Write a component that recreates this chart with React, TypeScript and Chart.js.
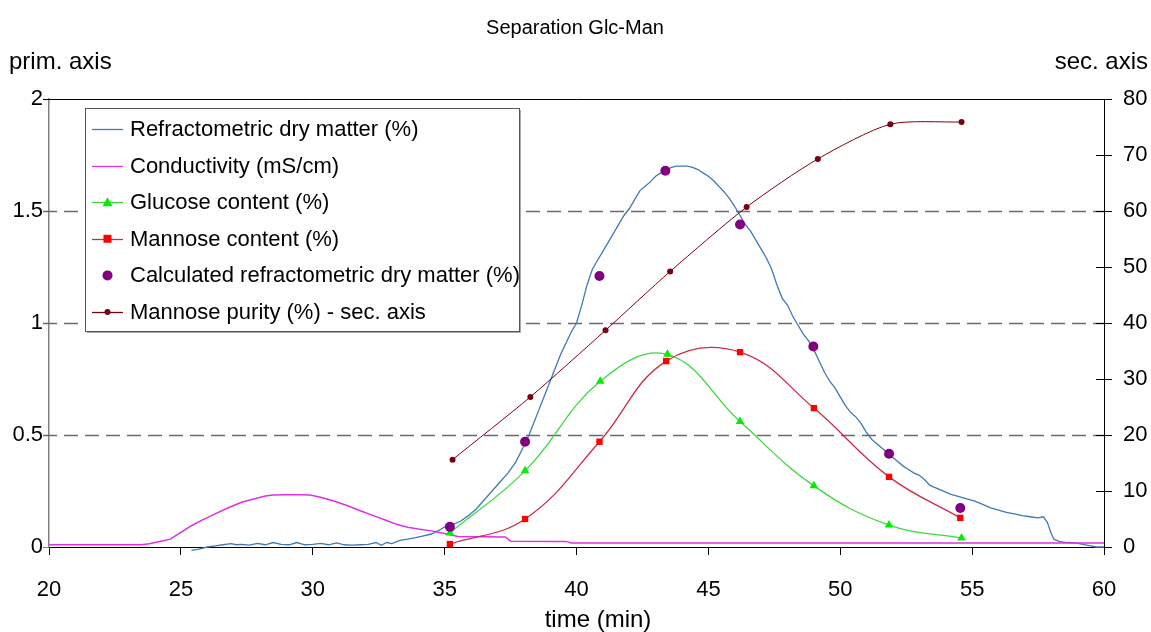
import React, { useEffect, useRef } from 'react';
import { Chart, registerables } from 'chart.js';

Chart.register(...registerables);

// ---------- texts ----------
const TITLE = 'Separation Glc-Man';
const X_TITLE = 'time (min)';
const Y_TITLE = 'prim. axis';
const Y2_TITLE = 'sec. axis';

// ---------- axes ----------
const X_RANGE = [20, 60];
const X_STEP = 5;
const Y_RANGE = [0, 2];
const Y_STEP = 0.5;
const Y2_RANGE = [0, 80];
const Y2_STEP = 10;
const GRID_LINES = [0.5, 1, 1.5];

// ---------- series ----------
const LABELS = [
  'Refractometric dry matter (%)',
  'Conductivity (mS/cm)',
  'Glucose content (%)',
  'Mannose content (%)',
  'Calculated refractometric dry matter (%)',
  'Mannose purity (%) - sec. axis',
];

// [time (min), value]
const dryMatter: [number, number][] = [
  [25.4, -0.015], [25.6, -0.012], [25.8, -0.006], [26.0, 0.0], [26.3, 0.005], [26.6, 0.01],
  [26.9, 0.015], [27.1, 0.01], [27.3, 0.012], [27.6, 0.008], [27.9, 0.016], [28.2, 0.01],
  [28.5, 0.02], [28.8, 0.012], [29.1, 0.01], [29.4, 0.02], [29.7, 0.01], [30.0, 0.012],
  [30.3, 0.016], [30.6, 0.01], [30.9, 0.018], [31.2, 0.01], [31.5, 0.008], [31.8, 0.01],
  [32.1, 0.012], [32.4, 0.02], [32.6, 0.008], [32.8, 0.02], [33.0, 0.015], [33.3, 0.03],
  [33.6, 0.035], [33.9, 0.042], [34.2, 0.05], [34.5, 0.058], [34.8, 0.075], [35.0, 0.09],
  [35.3, 0.1], [35.6, 0.115], [35.9, 0.14], [36.2, 0.17], [36.5, 0.21], [36.8, 0.25],
  [37.1, 0.29], [37.4, 0.33], [37.7, 0.38], [38.0, 0.45], [38.2, 0.5], [38.4, 0.56],
  [38.6, 0.62], [38.8, 0.68], [39.0, 0.74], [39.2, 0.8], [39.4, 0.86], [39.6, 0.91],
  [39.8, 0.96], [40.0, 1.0], [40.2, 1.08], [40.4, 1.17], [40.6, 1.24], [40.8, 1.28],
  [41.0, 1.32], [41.2, 1.36], [41.4, 1.4], [41.6, 1.44], [41.8, 1.48], [42.0, 1.51],
  [42.2, 1.55], [42.4, 1.59], [42.6, 1.61], [42.8, 1.63], [43.0, 1.655], [43.2, 1.67],
  [43.4, 1.68], [43.6, 1.695], [43.8, 1.7], [44.0, 1.7], [44.2, 1.7], [44.4, 1.695],
  [44.6, 1.685], [44.8, 1.67], [45.0, 1.655], [45.2, 1.635], [45.4, 1.61], [45.6, 1.585],
  [45.8, 1.555], [46.0, 1.52], [46.2, 1.48], [46.4, 1.44], [46.6, 1.41], [46.8, 1.37],
  [47.0, 1.33], [47.2, 1.29], [47.4, 1.24], [47.6, 1.17], [47.8, 1.11], [48.0, 1.08],
  [48.2, 1.03], [48.4, 0.99], [48.6, 0.95], [48.8, 0.92], [49.0, 0.88], [49.2, 0.83],
  [49.4, 0.78], [49.6, 0.74], [49.8, 0.71], [50.0, 0.67], [50.2, 0.63], [50.4, 0.6],
  [50.6, 0.58], [50.8, 0.55], [51.0, 0.51], [51.2, 0.48], [51.4, 0.46], [51.6, 0.44],
  [51.8, 0.42], [52.0, 0.4], [52.2, 0.38], [52.4, 0.36], [52.6, 0.345], [52.8, 0.33],
  [53.0, 0.32], [53.2, 0.3], [53.4, 0.275], [53.6, 0.265], [53.8, 0.255], [54.0, 0.245],
  [54.2, 0.235], [54.5, 0.225], [54.8, 0.215], [55.1, 0.205], [55.4, 0.19], [55.7, 0.175],
  [56.0, 0.165], [56.3, 0.155], [56.6, 0.148], [56.9, 0.14], [57.2, 0.135], [57.5, 0.13],
  [57.7, 0.135], [57.85, 0.11], [58.0, 0.06], [58.1, 0.035], [58.3, 0.025], [58.6, 0.02],
  [58.9, 0.018], [59.2, 0.012], [59.5, 0.005], [59.7, 0.0], [60.0, 0.0],
];

const conductivity: [number, number][] = [
  [20.0, 0.01], [23.5, 0.01], [23.8, 0.015], [24.2, 0.025], [24.6, 0.035], [25.0, 0.065],
  [25.4, 0.095], [25.8, 0.12], [26.3, 0.148], [26.8, 0.175], [27.3, 0.2], [27.8, 0.215],
  [28.2, 0.228], [28.5, 0.232], [29.0, 0.233], [29.5, 0.233], [29.9, 0.232], [30.3, 0.222],
  [30.8, 0.205], [31.3, 0.185], [31.8, 0.162], [32.3, 0.14], [32.8, 0.118], [33.2, 0.1],
  [33.6, 0.088], [34.0, 0.08], [34.5, 0.072], [35.0, 0.06], [35.3, 0.052], [35.5, 0.047],
  [36.5, 0.046], [37.3, 0.045], [37.5, 0.026], [39.6, 0.025], [39.8, 0.018], [60.0, 0.018],
];

const glucose: [number, number][] = [
  [35.2, 0.063], [38.05, 0.34], [40.9, 0.74], [43.45, 0.86],
  [46.2, 0.56], [49.0, 0.273], [51.85, 0.098], [54.6, 0.04],
];

const mannose: [number, number][] = [
  [35.2, 0.013], [38.05, 0.125], [40.87, 0.47], [43.4, 0.83],
  [46.2, 0.87], [49.0, 0.62], [51.85, 0.313], [54.55, 0.13],
];

const calcDryMatter: [number, number][] = [
  [35.2, 0.09], [38.05, 0.47], [40.87, 1.21], [43.37, 1.68],
  [46.2, 1.44], [48.98, 0.895], [51.85, 0.416], [54.55, 0.174],
];

const mannosePurity: [number, number][] = [
  [35.3, 15.6], [38.25, 26.8], [41.1, 38.7], [43.55, 49.2],
  [46.45, 60.7], [49.15, 69.3], [51.9, 75.5], [54.6, 75.9],
];

// ---------- styles ----------
const FONT = "'Liberation Sans', Arial, Helvetica, sans-serif";
const BLUE = '#3f7ab5';
const MAGENTA = '#e030e0';
const GREEN_LINE = '#3ed83e';
const GREEN_MARK = '#00ee00';
const RED_LINE = '#d02a48';
const RED_MARK = '#ff0000';
const PURPLE = '#800080';
const DARK_RED = '#7a0010';

const toXY = (arr: [number, number][]) => arr.map(([x, y]) => ({ x, y }));

type LegendItem = {
  text: string;
  line: string | null;
  marker: 'triangle' | 'rect' | 'circle' | 'dot' | null;
  markerColor: string;
};

const LEGEND: LegendItem[] = [
  { text: LABELS[0], line: BLUE, marker: null, markerColor: '' },
  { text: LABELS[1], line: MAGENTA, marker: null, markerColor: '' },
  { text: LABELS[2], line: GREEN_LINE, marker: 'triangle', markerColor: GREEN_MARK },
  { text: LABELS[3], line: RED_LINE, marker: 'rect', markerColor: RED_MARK },
  { text: LABELS[4], line: null, marker: 'circle', markerColor: PURPLE },
  { text: LABELS[5], line: DARK_RED, marker: 'dot', markerColor: DARK_RED },
];

const decorPlugin = {
  id: 'decor',
  beforeDatasetsDraw(chart: any) {
    const { ctx, chartArea } = chart;
    const y = chart.scales.y;
    ctx.save();
    ctx.strokeStyle = '#6a6a6a';
    ctx.lineWidth = 1.5;
    ctx.setLineDash([14, 7]);
    GRID_LINES.forEach((v) => {
      const py = Math.round(y.getPixelForValue(v)) + 0.5;
      ctx.beginPath();
      ctx.moveTo(chartArea.left - 6, py);
      ctx.lineTo(chartArea.right, py);
      ctx.stroke();
    });
    ctx.setLineDash([]);
    // top border
    ctx.strokeStyle = '#000';
    ctx.lineWidth = 1;
    const top = Math.round(chartArea.top) + 0.5;
    ctx.beginPath();
    ctx.moveTo(chartArea.left - 6, top);
    ctx.lineTo(chartArea.right + 8, top);
    ctx.stroke();
    // inner ticks of the secondary axis
    const y2 = chart.scales.y2;
    y2.ticks.forEach((t: any) => {
      const py = Math.round(y2.getPixelForValue(t.value)) + 0.5;
      ctx.beginPath();
      ctx.moveTo(chartArea.right - 8, py);
      ctx.lineTo(chartArea.right, py);
      ctx.stroke();
    });
    ctx.restore();
  },
  afterDraw(chart: any) {
    const { ctx, chartArea } = chart;
    ctx.save();
    ctx.fillStyle = '#000';
    // title
    ctx.font = `20px ${FONT}`;
    ctx.textAlign = 'center';
    ctx.textBaseline = 'middle';
    ctx.fillText(TITLE, 575, 28);
    // axis titles
    ctx.font = `24px ${FONT}`;
    ctx.textAlign = 'left';
    ctx.fillText(Y_TITLE, 9, 62);
    ctx.textAlign = 'right';
    ctx.fillText(Y2_TITLE, 1148, 62);
    ctx.textAlign = 'center';
    ctx.fillText(X_TITLE, 598, 620);

    // legend box
    const bx = chartArea.left + 36;
    const by = chartArea.top + 9;
    const bw = 434;
    const bh = 223;
    ctx.fillStyle = '#ffffff';
    ctx.fillRect(bx, by, bw, bh);
    ctx.strokeStyle = '#555';
    ctx.lineWidth = 1;
    ctx.strokeRect(bx + 0.5, by + 0.5, bw, bh);
    ctx.strokeStyle = '#aaa';
    ctx.beginPath();
    ctx.moveTo(bx + bw + 1.5, by + 2);
    ctx.lineTo(bx + bw + 1.5, by + bh + 1.5);
    ctx.lineTo(bx + 2, by + bh + 1.5);
    ctx.stroke();

    ctx.font = `22px ${FONT}`;
    ctx.textAlign = 'left';
    ctx.textBaseline = 'middle';
    LEGEND.forEach((item, i) => {
      const cy = by + 21 + i * 36.6;
      const x0 = bx + 7;
      const x1 = bx + 38;
      const mx = (x0 + x1) / 2;
      if (item.line) {
        ctx.strokeStyle = item.line;
        ctx.lineWidth = 1.3;
        ctx.beginPath();
        ctx.moveTo(x0, Math.round(cy) + 0.5);
        ctx.lineTo(x1, Math.round(cy) + 0.5);
        ctx.stroke();
      }
      ctx.fillStyle = item.markerColor;
      if (item.marker === 'triangle') {
        ctx.beginPath();
        ctx.moveTo(mx, cy - 5);
        ctx.lineTo(mx + 5, cy + 4);
        ctx.lineTo(mx - 5, cy + 4);
        ctx.closePath();
        ctx.fill();
      } else if (item.marker === 'rect') {
        ctx.fillRect(mx - 4, cy - 4, 8, 8);
      } else if (item.marker === 'circle') {
        ctx.beginPath();
        ctx.arc(mx, cy, 5, 0, Math.PI * 2);
        ctx.fill();
      } else if (item.marker === 'dot') {
        ctx.beginPath();
        ctx.arc(mx, cy, 3, 0, Math.PI * 2);
        ctx.fill();
      }
      ctx.fillStyle = '#000';
      ctx.fillText(item.text, bx + 45, cy + 1);
    });
    ctx.restore();
  },
};

export default function App() {
  const ref = useRef<HTMLCanvasElement | null>(null);

  useEffect(() => {
    document.body.style.margin = '0';
    const canvas = ref.current;
    if (!canvas) return;
    const tickFont = { family: FONT, size: 22 };
    const chart = new Chart(canvas, {
      type: 'line',
      data: {
        datasets: [
          {
            label: LABELS[0],
            data: toXY(dryMatter),
            borderColor: BLUE,
            borderWidth: 1.3,
            pointRadius: 0,
            tension: 0,
            yAxisID: 'y',
            order: 6,
            clip: 8,
          },
          {
            label: LABELS[1],
            data: toXY(conductivity),
            borderColor: MAGENTA,
            borderWidth: 1.5,
            pointRadius: 0,
            tension: 0,
            yAxisID: 'y',
            order: 5,
          },
          {
            label: LABELS[2],
            data: toXY(glucose),
            borderColor: GREEN_LINE,
            borderWidth: 1.3,
            pointStyle: 'triangle',
            pointRadius: 5,
            pointBackgroundColor: GREEN_MARK,
            pointBorderColor: GREEN_MARK,
            pointBorderWidth: 0,
            tension: 0.4,
            yAxisID: 'y',
            order: 4,
          },
          {
            label: LABELS[3],
            data: toXY(mannose),
            borderColor: RED_LINE,
            borderWidth: 1.3,
            pointStyle: 'rect',
            pointRadius: 4.5,
            pointBackgroundColor: RED_MARK,
            pointBorderColor: RED_MARK,
            pointBorderWidth: 0,
            tension: 0.4,
            yAxisID: 'y',
            order: 3,
          },
          {
            label: LABELS[4],
            data: toXY(calcDryMatter),
            showLine: false,
            borderColor: PURPLE,
            pointStyle: 'circle',
            pointRadius: 5,
            pointBackgroundColor: PURPLE,
            pointBorderColor: PURPLE,
            pointBorderWidth: 0,
            yAxisID: 'y',
            order: 2,
          },
          {
            label: LABELS[5],
            data: toXY(mannosePurity),
            borderColor: DARK_RED,
            borderWidth: 1,
            pointStyle: 'circle',
            pointRadius: 3,
            pointBackgroundColor: DARK_RED,
            pointBorderColor: DARK_RED,
            pointBorderWidth: 0,
            tension: 0.25,
            yAxisID: 'y2',
            order: 1,
          },
        ],
      },
      options: {
        responsive: false,
        animation: false,
        devicePixelRatio: 1,
        layout: { padding: { top: 99, left: 0, right: 0, bottom: 0 } },
        plugins: {
          legend: { display: false },
          title: { display: false },
          tooltip: { enabled: false },
        },
        scales: {
          x: {
            type: 'linear',
            min: X_RANGE[0],
            max: X_RANGE[1],
            ticks: { stepSize: X_STEP, font: tickFont, color: '#000', padding: 22 },
            grid: { drawOnChartArea: false, tickLength: 8, color: '#000' },
            border: { color: '#000', width: 1 },
            afterFit: (s: any) => {
              s.height = 85;
            },
          },
          y: {
            position: 'left',
            min: Y_RANGE[0],
            max: Y_RANGE[1],
            ticks: {
              stepSize: Y_STEP,
              font: tickFont,
              color: '#000',
              padding: 0,
              callback: (v: any) => String(v),
            },
            grid: { drawOnChartArea: false, tickLength: 6, color: '#808080' },
            border: { color: '#808080', width: 1.5 },
            afterFit: (s: any) => {
              s.width = 49;
            },
          },
          y2: {
            position: 'right',
            min: Y2_RANGE[0],
            max: Y2_RANGE[1],
            ticks: {
              stepSize: Y2_STEP,
              font: tickFont,
              color: '#000',
              padding: 11,
              callback: (v: any) => String(v),
            },
            grid: { drawOnChartArea: false, tickLength: 8, color: '#000' },
            border: { color: '#000', width: 1 },
            afterFit: (s: any) => {
              s.width = 47;
            },
          },
        },
      },
      plugins: [decorPlugin],
    });
    return () => chart.destroy();
  }, []);

  return (
    <div style={{ position: 'fixed', left: 0, top: 0, width: 1151, height: 632, background: '#fff' }}>
      <canvas ref={ref} width={1151} height={632} style={{ display: 'block' }} />
    </div>
  );
}
